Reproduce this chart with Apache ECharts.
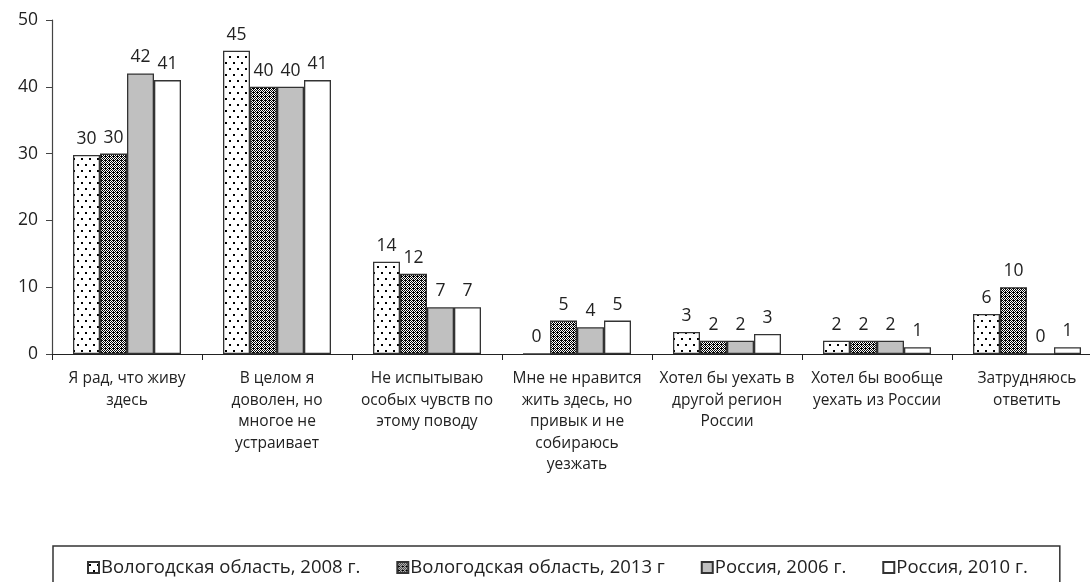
<!DOCTYPE html>
<html>
<head>
<meta charset="utf-8">
<script src="https://cdn.jsdelivr.net/npm/echarts@6/dist/echarts.min.js"></script>
<style>
  html, body { margin: 0; padding: 0; background: #fff; }
  #chart { width: 1090px; height: 582px; }
</style>
</head>
<body>
<div id="chart"></div>
<script>
const categories = [
  'Я рад, что живу\nздесь',
  'В целом я\nдоволен, но\nмногое не\nустраивает',
  'Не испытываю\nособых чувств по\nэтому поводу',
  'Мне не нравится\nжить здесь, но\nпривык и не\nсобираюсь\nуезжать',
  'Хотел бы уехать в\nдругой регион\nРоссии',
  'Хотел бы вообще\nуехать из России',
  'Затрудняюсь\nответить'
]
const seriesNames = ['Вологодская область, 2008 г.', 'Вологодская область, 2013 г', 'Россия, 2006 г.', 'Россия, 2010 г.']
const vologda2008 = [29.8, 45.4, 13.8, 0, 3.3, 2, 6]
const vologda2013 = [30, 40, 12, 5, 2, 2, 10]
const russia2006 = [42, 40, 7, 4, 2, 2, 0]
const russia2010 = [41, 41, 7, 5, 3, 1, 1]
const yTicks = [0, 10, 20, 30, 40, 50]

// pattern fills, drawn once
const makePattern = (w, h, draw) => {
  const c = document.createElement('canvas')
  c.width = w
  c.height = h
  const ctx = c.getContext('2d')
  ctx.fillStyle = '#fff'
  ctx.fillRect(0, 0, w, h)
  ctx.fillStyle = '#000'
  draw(ctx)
  return { image: c, repeat: 'repeat' }
}

const dots = makePattern(8, 12, ctx => {
  ctx.fillRect(1, 2, 2, 2)
  ctx.fillRect(5, 8, 2, 2)
})

const checks = makePattern(4, 4, ctx => {
  for (let x = 0; x < 4; x++) {
    for (let y = 0; y < 4; y++) {
      if ((x + y) % 2 === 0) ctx.fillRect(x, y, 1, 1)
    }
  }
  ctx.fillRect(1, 0, 1, 1)
})

const fills = [dots, checks, '#c0c0c0', '#ffffff']
const values = [vologda2008, vologda2013, russia2006, russia2010]

const font = 'Open Sans, Noto Sans, sans-serif'

const chart = echarts.init(document.getElementById('chart'))

chart.setOption({
  animation: false,
  textStyle: { fontFamily: font },
  grid: { left: 52, width: 1050, top: 20, bottom: 228, outerBoundsMode: 'none', containLabel: false },
  legend: {
    left: 53,
    top: 546,
    padding: [12, 32, 40, 34],
    borderColor: '#333',
    borderWidth: 1.5,
    itemWidth: 11,
    itemHeight: 11,
    itemGap: 36,
    icon: 'rect',
    textStyle: { fontFamily: font, fontSize: 18.5, color: '#222', padding: [0, 0, 0, -3] },
    data: seriesNames
  },
  xAxis: {
    type: 'category',
    data: categories,
    axisLine: { lineStyle: { color: '#222', width: 1.2 } },
    axisTick: { show: true, length: 6, lineStyle: { color: '#222' } },
    axisLabel: {
      interval: 0,
      margin: 14,
      fontSize: 15.5,
      lineHeight: 21.5,
      color: '#222',
      fontFamily: font
    }
  },
  yAxis: {
    type: 'value',
    min: 0,
    max: 50,
    interval: 10,
    splitLine: { show: false },
    axisLine: { show: true, lineStyle: { color: '#444', width: 1.2 } },
    axisTick: { show: true, length: 6, lineStyle: { color: '#444' } },
    axisLabel: {
      fontSize: 17.5,
      color: '#222',
      margin: 14,
      fontFamily: font,
      formatter: v => (yTicks.includes(v) ? String(v) : '')
    }
  },
  series: values.map((data, i) => ({
    name: seriesNames[i],
    type: 'bar',
    data,
    barGap: '0%',
    barCategoryGap: '28%',
    itemStyle: {
      color: fills[i],
      borderColor: '#333',
      borderWidth: 1.3
    },
    label: {
      show: true,
      position: 'top',
      distance: 7,
      fontSize: 17.5,
      color: '#222',
      fontFamily: font,
      formatter: p => Math.round(p.value)
    }
  }))
})
</script>
</body>
</html>
